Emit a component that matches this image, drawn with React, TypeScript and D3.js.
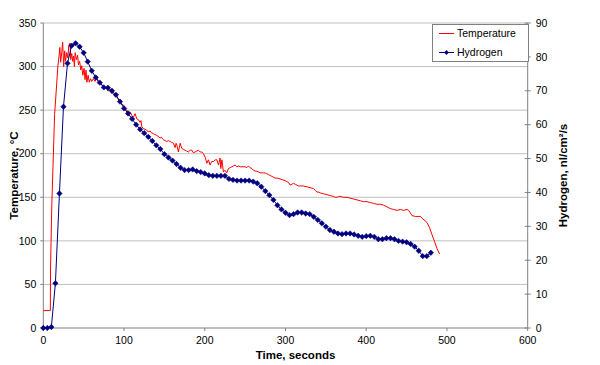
import React, { useEffect } from "react";
import * as d3 from "d3";

const xTicks = [0, 100, 200, 300, 400, 500, 600];
const tempTicks = [0, 50, 100, 150, 200, 250, 300, 350];
const h2Ticks = [0, 10, 20, 30, 40, 50, 60, 70, 80, 90];

const temperature: [number, number][] = [
  [0, 20], [8.7, 20], [9.0, 70], [10.5, 140], [12, 185], [14, 245], [16, 272], [18, 300], [19.5, 312], [20.5, 322],
  [21.5, 305], [22.8, 316], [24, 328], [25.2, 300], [26.5, 318], [27.5, 306], [29, 316], [30.5, 310], [31.5, 324], [33, 327],
  [34, 308], [35.2, 315], [36.5, 306], [37.5, 312], [38.5, 300], [39.5, 316], [41, 308], [42.5, 313], [43.5, 302], [45, 306],
  [46.5, 296], [47.6, 301], [49, 290], [50.5, 298], [51.7, 285], [52.9, 296], [54, 282], [55.5, 290], [57, 282], [58.5, 286],
  [60, 283], [62, 286], [64, 283], [66, 287], [68, 282], [70.3, 281], [72, 279], [74.4, 278], [76, 276], [78.6, 275],
  [80, 272], [82.7, 273], [84, 270], [86.8, 269], [88, 267], [91, 266], [93, 262], [95, 261], [97, 257], [99.2, 256],
  [101, 252], [103.4, 250], [105.5, 247], [107.5, 248], [109.6, 244], [111.6, 242], [113.7, 246], [115.8, 240], [117.8, 239], [119.9, 236],
  [121, 238], [122, 231], [124, 229], [126, 228], [128.2, 227], [130, 225], [132.3, 226], [134, 224], [136.4, 223], [138, 222],
  [140.6, 221], [142, 220], [144.7, 218], [146, 219], [148.8, 216], [151, 215], [153, 214], [155, 215], [157.1, 214], [159, 213],
  [161.2, 212], [163.3, 207], [164.5, 212], [165.4, 210], [167.3, 202], [169.5, 212], [171.6, 206], [173.5, 205], [175.7, 204], [177.7, 203],
  [179.7, 202], [182, 204], [184, 204], [186, 201], [188, 202], [190, 203], [192.1, 204], [194.2, 202], [196.4, 202], [198.3, 200],
  [200.5, 196], [202.6, 189], [204.5, 193], [206.6, 187], [208.5, 191], [210.7, 191], [213, 193], [215, 193], [217, 187], [219, 195],
  [219.9, 183], [221.2, 193], [223.1, 179], [225, 181], [227.3, 178], [229.3, 183], [231.5, 184], [233.5, 185], [235.5, 186], [237.6, 187],
  [239.7, 185], [241.7, 186], [244, 185], [246, 185], [250, 185], [252, 184], [254.1, 186], [256, 184], [258.3, 183], [260.4, 181],
  [262.4, 180], [264.5, 180], [266.5, 179], [268.6, 178], [270.7, 178], [272.7, 178], [274.8, 178], [276.9, 177], [278.9, 176], [281, 175],
  [283.1, 174], [285.1, 173], [287.2, 172], [290, 172], [293.4, 171], [296.5, 170], [299.6, 169], [301.6, 168], [303.7, 167], [305.8, 164],
  [307.9, 165], [309.9, 166], [312, 165], [314.1, 164], [316.1, 163], [318.2, 163], [322, 163], [326.5, 162], [330.6, 161], [334.7, 160],
  [336.8, 158], [338.9, 156], [341, 156], [343, 155], [347.1, 154], [351.3, 153], [355.4, 152], [359.5, 151], [361.5, 150], [363.7, 150],
  [365.7, 151], [367.8, 151], [371.9, 150], [376.1, 150], [380.2, 149], [384.3, 148], [388.5, 147], [392.6, 146], [396.7, 145], [400.9, 145],
  [405, 144], [409.1, 143], [413.2, 142], [417.4, 142], [421.5, 141], [425.7, 139], [429.8, 137], [433.9, 136], [438.1, 135], [442.2, 136],
  [446.3, 135], [450.5, 136], [452.5, 135], [454.6, 132], [456.7, 129], [460.8, 128], [464, 128], [467, 128], [470.3, 125], [473, 123],
  [475.3, 121], [478.5, 115], [481.5, 107], [484.7, 99], [487.7, 91], [490.9, 85],
];

const hydrogen: [number, number][] = [
  [0, 0], [5, 0], [10, 0.3], [15, 13.2], [20, 39.7], [25, 65.3], [30, 78.1], [35, 83.3], [40, 84.0], [45, 83.0],
  [50, 81.2], [55, 78.6], [60, 75.9], [65, 73.9], [70, 72.4], [75, 71.0], [80, 70.9], [85, 70.0], [90, 68.8], [95, 66.8],
  [100, 64.8], [105, 63.3], [110, 61.7], [115, 60.0], [120, 58.6], [125, 57.5], [130, 56.4], [135, 55.2], [140, 53.9], [145, 52.8],
  [150, 51.3], [155, 50.3], [160, 49.4], [165, 48.4], [170, 47.3], [175, 46.6], [180, 46.6], [185, 46.8], [190, 46.3], [195, 46.0],
  [200, 45.6], [205, 45.1], [210, 44.9], [215, 44.9], [220, 44.9], [225, 44.9], [230, 44.0], [235, 43.7], [240, 43.5], [245, 43.5],
  [250, 43.5], [255, 43.5], [260, 43.2], [265, 42.7], [270, 41.7], [275, 40.4], [280, 39.2], [285, 37.8], [290, 36.2], [295, 35.0],
  [300, 34.0], [305, 33.3], [310, 33.6], [315, 34.1], [320, 34.1], [325, 33.8], [330, 33.6], [335, 32.8], [340, 31.9], [345, 30.9],
  [350, 29.9], [355, 28.9], [360, 28.4], [365, 27.9], [370, 27.7], [375, 27.9], [380, 27.9], [385, 27.6], [390, 27.2], [395, 26.9],
  [400, 27.1], [405, 27.2], [410, 26.9], [415, 26.2], [420, 26.2], [425, 26.5], [430, 26.5], [435, 26.2], [440, 25.7], [445, 25.5],
  [450, 25.3], [455, 24.8], [460, 24.0], [465, 22.8], [470, 21.2], [475, 21.2], [480, 22.2],
];

const W = 600;
const H = 365;
const left = 43.3;
const right = 527.7;
const top = 23;
const bottom = 328;

const font = "'Liberation Sans', Arial, sans-serif";
const diamond = "M0,-2.7L2.7,0L0,2.7L-2.7,0Z";

export default function App() {
  useEffect(() => {
    document.body.style.margin = "0";
  }, []);

  const x = d3.scaleLinear().domain([0, 600]).range([left, right]);
  const yT = d3.scaleLinear().domain([0, 350]).range([bottom, top]);
  const yH = d3.scaleLinear().domain([0, 90]).range([bottom, top]);

  const tLine = d3
    .line<[number, number]>()
    .x((d) => x(d[0]))
    .y((d) => yT(d[1]));
  const hLine = d3
    .line<[number, number]>()
    .x((d) => x(d[0]))
    .y((d) => yH(d[1]));

  const axisColor = "#808080";
  const gridColor = "#c0c0c0";

  return (
    <svg
      width={W}
      height={H}
      style={{ position: "absolute", left: 0, top: 0, background: "#fff" }}
      fontFamily={font}
    >
      <rect x={0} y={0} width={W} height={H} fill="#fff" />
      {tempTicks
        .filter((t) => t > 0)
        .map((t) => (
          <line key={"g" + t} x1={left} x2={right} y1={yT(t)} y2={yT(t)} stroke={gridColor} strokeWidth={1} />
        ))}
      <line x1={left} x2={left} y1={top} y2={bottom} stroke={axisColor} strokeWidth={1} />
      {tempTicks.map((t) => (
        <g key={"lt" + t}>
          <line x1={left - 3} x2={left} y1={yT(t)} y2={yT(t)} stroke={axisColor} />
          <text x={left - 7} y={yT(t)} dy="0.35em" textAnchor="end" fontSize={10.5} fill="#000">
            {t}
          </text>
        </g>
      ))}
      <line x1={left} x2={right} y1={bottom} y2={bottom} stroke={axisColor} strokeWidth={1} />
      {xTicks.map((t) => (
        <g key={"bt" + t}>
          <line x1={x(t)} x2={x(t)} y1={bottom} y2={bottom + 3} stroke={axisColor} />
          <text x={x(t)} y={bottom + 16} textAnchor="middle" fontSize={10.5} fill="#000">
            {t}
          </text>
        </g>
      ))}
      <line x1={right} x2={right} y1={top} y2={bottom} stroke={axisColor} strokeWidth={1} />
      {h2Ticks.map((t) => (
        <g key={"rt" + t}>
          <line x1={right - 3} x2={right + 3} y1={yH(t)} y2={yH(t)} stroke={axisColor} />
          <text x={right + 8} y={yH(t)} dy="0.35em" textAnchor="start" fontSize={10.5} fill="#000">
            {t}
          </text>
        </g>
      ))}
      <text x={(left + right) / 2 + 10} y={359} textAnchor="middle" fontSize={11.5} fontWeight="bold" fill="#000">
        Time, seconds
      </text>
      <text
        transform={`translate(18,${(top + bottom) / 2}) rotate(-90)`}
        textAnchor="middle"
        fontSize={11.5}
        fontWeight="bold"
        fill="#000"
      >
        Temperature, °C
      </text>
      <text
        transform={`translate(567,${(top + bottom) / 2}) rotate(-90)`}
        textAnchor="middle"
        fontSize={11.5}
        fontWeight="bold"
        fill="#000"
      >
        Hydrogen, nl/cm²/s
      </text>
      <path d={tLine(temperature) || ""} fill="none" stroke="#ff0000" strokeWidth={1} />
      <path d={hLine(hydrogen) || ""} fill="none" stroke="#000080" strokeWidth={1} />
      {hydrogen.map((d, i) => (
        <path key={"m" + i} d={diamond} transform={`translate(${x(d[0])},${yH(d[1])})`} fill="#000080" stroke="#000080" strokeWidth={0.6} />
      ))}
      <rect x={432.5} y={24.5} width={96} height={37} fill="#fff" stroke={axisColor} strokeWidth={1} />
      <line x1={439} x2={454} y1={33.5} y2={33.5} stroke="#ff0000" strokeWidth={1} />
      <text x={457} y={33.5} dy="0.35em" fontSize={10.5} fill="#000">
        Temperature
      </text>
      <line x1={439} x2={454} y1={52.5} y2={52.5} stroke="#000080" strokeWidth={1} />
      <path d={"M0,-2.2L2.2,0L0,2.2L-2.2,0Z"} transform="translate(446.5,52.5)" fill="#000080" stroke="#000080" strokeWidth={0.5} />
      <text x={457} y={52.5} dy="0.35em" fontSize={10.5} fill="#000">
        Hydrogen
      </text>
    </svg>
  );
}
